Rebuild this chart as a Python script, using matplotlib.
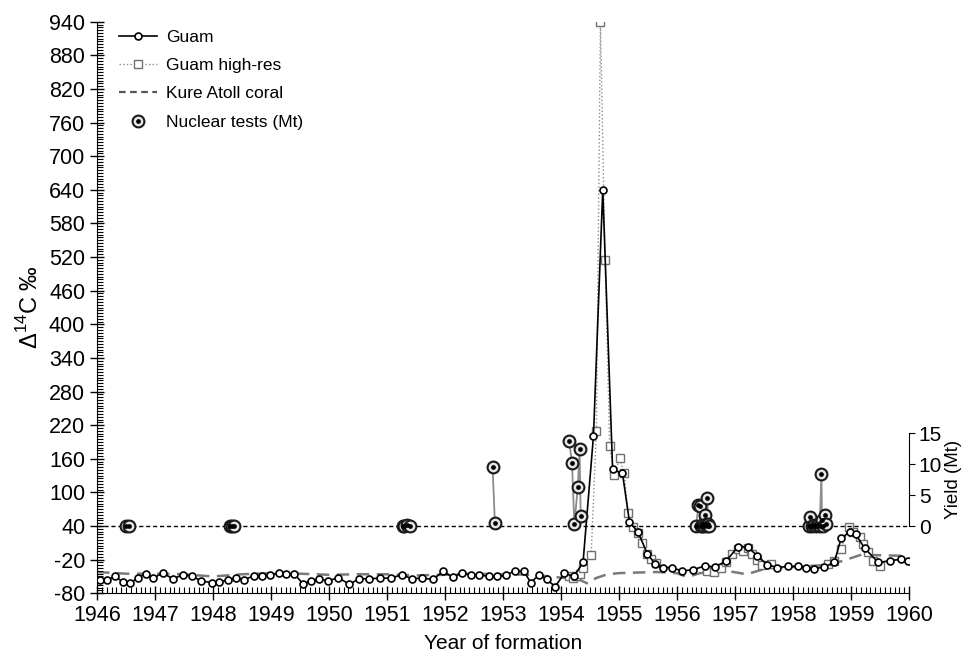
import numpy as np
import matplotlib.pyplot as plt
from matplotlib.ticker import MultipleLocator
from matplotlib.lines import Line2D

plt.rcParams['font.family'] = ['Liberation Sans', 'DejaVu Sans']
plt.rcParams['axes.unicode_minus'] = False

nan = float('nan')

# Guam coral, bimonthly
guam_year = [1946.05, 1946.17, 1946.31, 1946.44, 1946.57, 1946.71, 1946.84, 1946.97,
             1947.13, 1947.31, 1947.48, 1947.63, 1947.80, 1947.98, 1948.11, 1948.25,
             1948.40, 1948.53, 1948.70, 1948.84, 1948.98, 1949.13, 1949.26, 1949.40,
             1949.55, 1949.69, 1949.83, 1949.98, 1950.16, 1950.35, 1950.52, 1950.69,
             1950.88, 1951.07, 1951.25, 1951.43, 1951.60, 1951.79, 1951.97, 1952.13,
             1952.29, 1952.44, 1952.59, 1952.75, 1952.90, 1953.05, 1953.20, 1953.36,
             1953.48, 1953.62, 1953.75, 1953.90, 1954.06, 1954.22, 1954.38, 1954.56,
             1954.72, 1954.89, 1955.06, 1955.18, 1955.33, 1955.49, 1955.62, 1955.75,
             1955.91, 1956.08, 1956.28, 1956.48, 1956.66, 1956.85, 1957.05, 1957.22,
             1957.38, 1957.56, 1957.73, 1957.91, 1958.08, 1958.22, 1958.37, 1958.54,
             1958.71, 1958.83, 1958.98, 1959.08, 1959.24, 1959.47, 1959.67, 1959.87,
             1959.98]
guam_d14c = [-56, -56, -50, -59, -62, -52, -45, -53,
             -44, -54, -47, -49, -58, -61, -59, -57,
             -52, -56, -49, -49, -47, -44, -46, -45,
             -63, -58, -54, -58, -52, -64, -54, -54,
             -53, -53, -47, -54, -53, -55, -41, -51,
             -44, -47, -47, -50, -50, -48, -40, -41,
             -61, -47, -55, -68, -44, -50, -25, 201,
             640, 141, 134, 48, 29, -10, -27, -34,
             -34, -40, -38, -31, -33, -22, 3, 3,
             -13, -29, -34, -32, -32, -34, -36, -33,
             -25, 18, 30, 25, 0, -25, -22, -19,
             -23]

# Guam high-resolution samples (three sampled windows)
hires_year = [1954.14, 1954.20, 1954.26, 1954.32, 1954.38, 1954.52, 1954.61, 1954.68,
              1954.76, 1954.84, 1954.92, 1955.01, 1955.09, 1955.15, 1955.24, 1955.32,
              1955.40, 1955.48, 1955.56, 1955.63, nan,
              1956.52, 1956.63, 1956.75, 1956.85, 1956.95, 1957.05, 1957.14, 1957.22,
              1957.30, 1957.38, 1957.47, 1957.62, nan,
              1958.60, 1958.70, 1958.83, 1958.96, 1959.03, 1959.15, 1959.20, 1959.29,
              1959.38, 1959.50]
hires_d14c = [-50, -52, -50, -45, -35, -12, 210, 939,
              515, 182, 131, 161, 135, 64, 38, 27,
              10, -10, -18, -26, nan,
              -40, -42, -34, -25, -10, -1, -5, 1,
              -10, -21, -30, -28, nan,
              -28, -22, -1, 38, 29, 20, 8, -7,
              -22, -31]

# Kure Atoll coral
kure_year = [1946.0, 1946.5, 1947.0, 1947.5, 1948.0, 1948.5, 1949.0, 1949.5, 1950.0,
             1950.5, 1951.0, 1951.5, 1952.0, 1952.5, 1953.0, 1953.5, 1954.0, 1954.3,
             1954.47, 1954.6, 1954.8, 1955.0, 1955.3, 1955.65, 1956.0, 1956.17, 1956.4,
             1956.6, 1956.86, 1957.2, 1957.56, 1958.0, 1958.48, 1958.83, 1959.18,
             1959.47, 1959.87, 1960.0]
kure_d14c = [-42, -45, -45, -46, -50, -46, -44, -45, -47,
             -46, -46, -48, -47, -45, -46, -47, -52, -55,
             -63, -53, -46, -44, -43, -42, -44, -51, -44,
             -42, -40, -46, -35, -33, -30, -23, -11,
             -12, -13, -18]

# Pacific nuclear tests, yield in Mt
test_year = [1946.50, 1946.56,
             1948.29, 1948.33, 1948.37,
             1951.27, 1951.30, 1951.35, 1951.40,
             1952.82, 1952.86,
             1954.14, 1954.19, 1954.23, 1954.29, 1954.32, 1954.34,
             1956.33, 1956.37, 1956.39, 1956.41, 1956.43, 1956.45, 1956.47, 1956.48,
             1956.50, 1956.51, 1956.52, 1956.54, 1956.55,
             1958.27, 1958.30, 1958.32, 1958.36, 1958.40, 1958.43, 1958.46, 1958.49,
             1958.50, 1958.52, 1958.55, 1958.57]
test_mt = [0.0, 0.0,
           0.0, 0.0, 0.0,
           0.0, 0.0, 0.2, 0.0,
           9.6, 0.5,
           13.8, 10.2, 0.3, 6.3, 12.4, 1.6,
           0.0, 3.4, 3.2, 0.0, 0.0, 0.3, 0.0, 1.8,
           0.4, 0.0, 4.6, 0.3, 0.0,
           0.0, 1.5, 0.0, 0.2, 0.0, 0.1, 0.0, 8.5,
           0.9, 0.0, 1.8, 0.3]
test_series = ['Crossroads'] * 2 + ['Sandstone'] * 3 + ['Greenhouse'] * 4 + ['Ivy'] * 2 + \
              ['Castle'] * 6 + ['Redwing'] * 13 + ['Hardtack'] * 12

fig = plt.figure(figsize=(9.68, 6.55), dpi=100)
ax = fig.add_axes([97 / 968, 1 - 593.3 / 655, 812 / 968, 571.6 / 655])

ax.plot(kure_year, kure_d14c, color='#7a7a7a', lw=1.8, dashes=(5, 3), zorder=1)
ax.plot(hires_year, hires_d14c, color='#8a8a8a', lw=1.0, ls=':', marker='s', ms=5.5,
        mfc='white', mec='#707070', mew=1.0, zorder=2)
ax.plot(guam_year, guam_d14c, color='black', lw=1.2, marker='o', ms=5, mfc='white',
        mec='black', mew=1.2, zorder=3)

ax.set_xlim(1946, 1960)
ax.set_ylim(-80, 940)
ax.set_yticks(np.arange(-80, 941, 60))
ax.set_xticks(np.arange(1946, 1961, 1))
ax.xaxis.set_minor_locator(MultipleLocator(1 / 12))
ax.yaxis.set_minor_locator(MultipleLocator(5))
ax.tick_params(which='major', direction='inout', length=10, width=1, labelsize=15.5)
ax.tick_params(which='minor', direction='in', length=4, width=0.8)
ax.spines['top'].set_visible(False)
ax.spines['right'].set_visible(False)
ax.set_xlabel('Year of formation', fontsize=15, labelpad=6)
ax.set_ylabel('Δ$^{\\mathregular{14}}$C ‰', fontsize=17, labelpad=4)

# yield axis: 0 Mt sits at 40 permil, 15 Mt at about 205
scale = 11.03
ax2 = ax.twinx()
ax2.set_ylim((-80 - 40) / scale, (940 - 40) / scale)
ax2.set_yticks([0, 5, 10, 15])
ax2.spines['right'].set_bounds(0, 15)
for s in ['top', 'left', 'bottom']:
    ax2.spines[s].set_visible(False)
ax2.tick_params(axis='y', direction='out', length=4, labelsize=15, pad=3)
ax2.set_ylabel('Yield (Mt)', fontsize=13.5, va='center')
ax2.yaxis.set_label_coords(1.0545, 0.2)
ax2.axhline(0, color='black', lw=1, dashes=(3, 2), zorder=1)

test_year = np.array(test_year)
test_mt = np.array(test_mt)
test_series = np.array(test_series)
for name in dict.fromkeys(test_series):
    sel = test_series == name
    ax2.plot(test_year[sel], test_mt[sel], color='#8c8c8c', lw=1.3, zorder=4)
ax2.plot(test_year, test_mt, ls='none', marker='o', ms=8.5, mfc='#e6e6e6', mec='#1a1a1a',
         mew=1.5, zorder=5)
ax2.plot(test_year, test_mt, ls='none', marker='o', ms=2.4, color='black', zorder=6)

handles = [
    Line2D([], [], color='black', lw=1.2, marker='o', ms=5, mfc='white', mec='black', mew=1.2),
    Line2D([], [], color='#8a8a8a', lw=1.0, ls=':', marker='s', ms=5.5, mfc='white',
           mec='#707070', mew=1.0),
    Line2D([], [], color='#555555', lw=1.6, dashes=(3, 2)),
    (Line2D([], [], ls='none', marker='o', ms=8.5, mfc='#e6e6e6', mec='#1a1a1a', mew=1.5),
     Line2D([], [], ls='none', marker='o', ms=2.4, color='black')),
]
labels = ['Guam', 'Guam high-res', 'Kure Atoll coral', 'Nuclear tests (Mt)']
ax2.legend(handles, labels, loc='upper left', bbox_to_anchor=(119 / 968, 1 - 30 / 655),
           bbox_transform=fig.transFigure, frameon=False, fontsize=12.5, borderpad=0,
           borderaxespad=0, handlelength=2.2, handletextpad=0.5, labelspacing=0.75)

fig.savefig('out.png', dpi=100)
